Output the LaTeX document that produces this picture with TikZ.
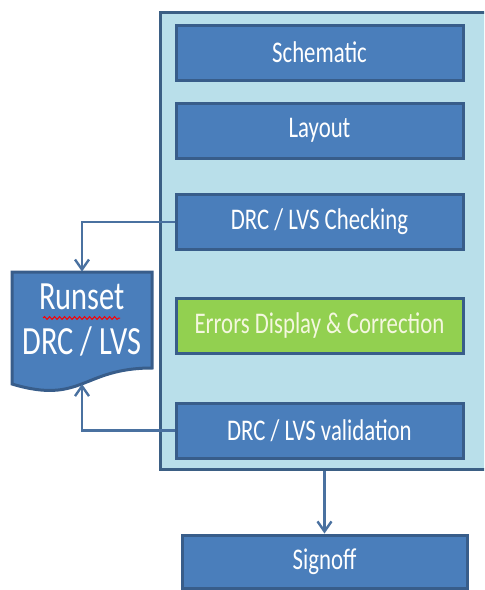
\documentclass[tikz,border=0pt]{standalone}
\usepackage{fontspec}
\setmainfont{Carlito}[FakeStretch=0.76]
\usetikzlibrary{positioning,fit,arrows.meta,decorations.pathmorphing}
\definecolor{boxblue}{HTML}{4A7EBB}
\definecolor{edgeblue}{HTML}{385D8A}
\definecolor{panelblue}{HTML}{B9DFEA}
\definecolor{panelline}{HTML}{3B5F84}
\definecolor{errgreen}{HTML}{92D050}
\definecolor{errtext}{HTML}{F4F7DF}
\definecolor{wireblue}{HTML}{4A71A0}

\begin{document}
\begin{tikzpicture}[x=0.5pt,y=-0.5pt,
    stage/.style={draw=edgeblue, line width=1.5pt, fill=boxblue, text=white,
        minimum width=143.5pt, minimum height=27.5pt, inner sep=0pt,
        font=\fontsize{15}{18}\selectfont},
    wire/.style={draw=wireblue, line width=1.2pt, -{Straight Barb[length=5pt,width=7pt]}}]
    \useasboundingbox (0,0) rectangle (484,590);
    \clip (0,0) rectangle (484,590);
    % main flow panel
    \coordinate (ptl) at (160,12);
    \coordinate (pbr) at (530,469);
    \node[fit=(ptl)(pbr), inner sep=0pt, draw=panelline, line width=1.5pt, fill=panelblue] (panel) {};
    \node[stage] (schem) at (319.5,52.5) {Schematic};
    \node[stage] (layout) at (319.5,130.5) {Layout};
    \node[stage] (check) at (319.5,222) {DRC / LVS Checking};
    \node[stage, fill=errgreen, text=errtext] (errors) at (319.5,325.5) {Errors Display \& Correction};
    \node[stage] (valid) at (319.5,430.5) {DRC / LVS validation};
    \node[stage, minimum width=142.5pt, minimum height=26.5pt] (signoff) at (324.5,561.5) {Signoff};
    % runset document
    \filldraw[fill=boxblue, draw=edgeblue, line width=1.5pt]
        (12,272) -- (152,272) -- (152,368) .. controls (82,368) and (82,405) .. (12,384) -- cycle;
    \node[minimum width=70pt, minimum height=48pt, inner sep=0pt, align=center, text=white,
        font=\fontsize{20}{22.5}\selectfont] (runset) at (82,320) {Runset\\DRC / LVS};
    \draw[red, line width=0.5pt, decorate, decoration={snake, amplitude=0.7pt, segment length=2.5pt}]
        (43,318) -- (120,318);
    \coordinate (runbot) at (82,384);
    % connectors
    \draw[wire] (check.west) -| (runset.north);
    \draw[wire] (valid.west) -| (runbot);
    \draw[wire] (signoff.north |- panel.south) -- (signoff.north);
\end{tikzpicture}
\end{document}
